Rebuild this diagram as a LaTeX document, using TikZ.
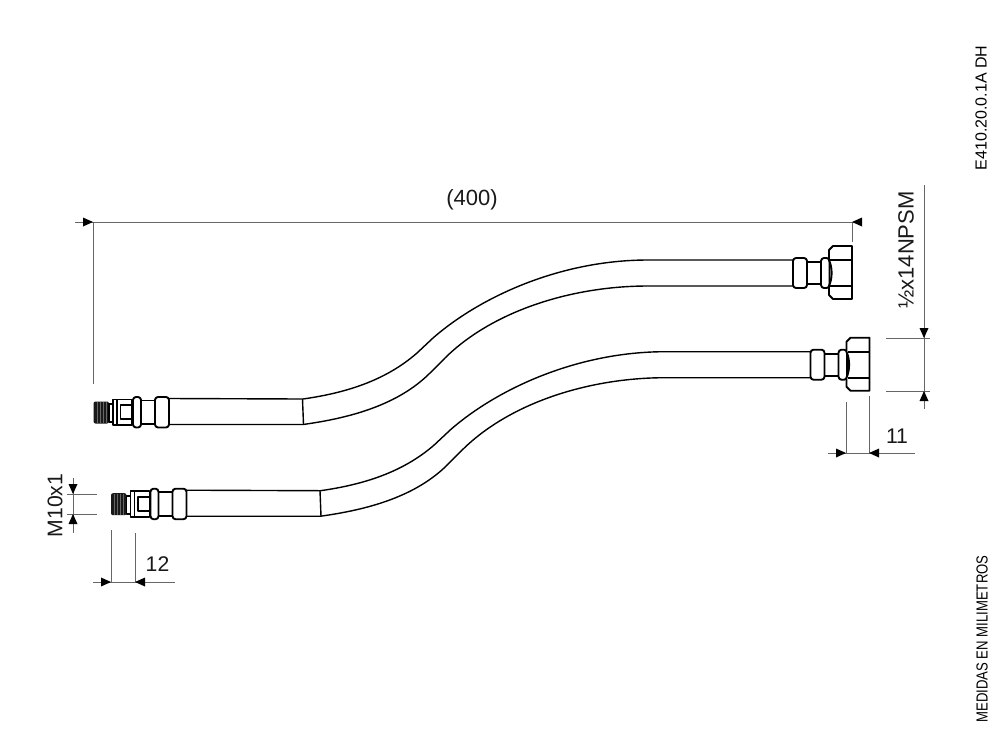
\documentclass[tikz,border=0pt]{standalone}
\usepackage{fontspec}
\setmainfont{Liberation Sans}
\newfontfamily\condfont[FakeStretch=0.82]{Liberation Sans}
\usetikzlibrary{arrows.meta}
\tikzset{
  x=0.5pt,y=-0.5pt,
  part/.style={draw=black,line width=0.95pt,fill=white,line join=round},
  hoseline/.style={draw=black,line width=0.7pt},
  dimline/.style={draw=black!60,line width=0.42pt},
  dimtip/.style={draw=none,fill=black},
  dimtext/.style={font=\fontsize{10.6}{12}\selectfont,inner sep=0pt,text=black!90},
}
% one hose drawn at the upper position; the lower one is this shifted
\newcommand{\hosedraw}{%
  % hose
  \draw[hoseline] (169,398.5) -- (303,399)
     .. controls (345,393) and (385,381) .. (417,353) -- (433,338)
     .. controls (480,297) and (560,260) .. (648,260) -- (793,260);
  \draw[hoseline] (169,424.5) -- (303,424.5)
     .. controls (350,418) and (398,405) .. (430,373) -- (443,360)
     .. controls (490,312) and (570,286) .. (648,286) -- (793,286);
  \draw[hoseline] (302.5,399) -- (303.5,424.5);
  % left fitting: thread
  \fill[black!90,rounded corners=1] (93.5,401.5) rectangle (109,423.5);
  \foreach \tx in {97,100,103,106}{\draw[black!60,line width=0.3pt] (\tx,402) -- (\tx,423);}
  \draw[part] (109,404) rectangle (113,422);
  \draw[part] (113,399.5) rectangle (132,425);
  \draw[part] (117,399.5) -- (117,425);
  \draw[part] (120.5,405) rectangle (132,419);
  \draw[part] (141,400.5) rectangle (155,424);
  \draw[part,rounded corners=1.5] (133,397) rectangle (141,427.5);
  \draw[part,rounded corners=1.5] (155,397) rectangle (169,427.5);
  % right fitting
  \draw[part] (807,262) rectangle (821,284);
  \draw[part,rounded corners=1.5] (793,258) rectangle (807,288);
  \draw[part,rounded corners=1.5] (821,258) rectangle (829.5,288);
  \draw[part] (852,246) -- (833,246) -- (829,250) -- (829,260)
     .. controls (832.5,268) and (832.5,278) .. (829,286)
     -- (829,295) -- (833,299) -- (852,299) -- cycle;
  \draw[part] (830,260) -- (852,260) (830,286) -- (852,286);
}
\begin{document}
\begin{tikzpicture}
\useasboundingbox (0,0) rectangle (1000,750);
\fill[white] (0,0) rectangle (1000,750);
\hosedraw
\begin{scope}[shift={(17.5,91.7)}]
\hosedraw
\end{scope}
% named dimension anchors
\coordinate (a1) at (93,222); \coordinate (a2) at (852,222);
\coordinate (b1) at (924,338); \coordinate (b2) at (924,391);
\coordinate (c1) at (846,453); \coordinate (c2) at (869,453);
\coordinate (d1) at (73,494); \coordinate (d2) at (73,514);
\coordinate (e1) at (111,582); \coordinate (e2) at (135,582);
% (400)
\draw[dimline] (75,222) -- (860,222);
\draw[dimline] (93,222) -- (93,384);
\draw[dimline] (852,222) -- (852,242);
\fill[dimtip] (a1) -- ++(-10,-4.5) -- ++(0,9) -- cycle;
\fill[dimtip] (a2) -- ++(10,-4.5) -- ++(0,9) -- cycle;
\node[dimtext,font=\fontsize{11}{12}\selectfont] (t400) at (472,200) {(400)};
% 1/2x14NPSM
\draw[dimline] (924,185) -- (924,409);
\draw[dimline] (886,338) -- (930,338);
\draw[dimline] (886,391) -- (930,391);
\fill[dimtip] (b1) -- ++(-4.5,-10) -- ++(9,0) -- cycle;
\fill[dimtip] (b2) -- ++(-4.5,10) -- ++(9,0) -- cycle;
\node[dimtext,font=\fontsize{11}{12}\selectfont,rotate=90] (tnpsm) at (906,250) {½x14NPSM};
% 11
\draw[dimline] (828,453) -- (915,453);
\draw[dimline] (846,402) -- (846,453);
\draw[dimline] (869,396) -- (869,453);
\fill[dimtip] (c1) -- ++(-10,-4.5) -- ++(0,9) -- cycle;
\fill[dimtip] (c2) -- ++(10,-4.5) -- ++(0,9) -- cycle;
\node[dimtext] (t11) at (897,436) {11};
% M10x1
\draw[dimline] (73,478) -- (73,533);
\draw[dimline] (67,494) -- (97,494);
\draw[dimline] (67,514) -- (97,514);
\fill[dimtip] (d1) -- ++(-4.5,-10) -- ++(9,0) -- cycle;
\fill[dimtip] (d2) -- ++(-4.5,10) -- ++(9,0) -- cycle;
\node[dimtext,rotate=90] (tm) at (55,505.5) {M10x1};
% 12
\draw[dimline] (93,582) -- (175,582);
\draw[dimline] (111,530) -- (111,582);
\draw[dimline] (135,533) -- (135,582);
\fill[dimtip] (e1) -- ++(-10,-4.5) -- ++(0,9) -- cycle;
\fill[dimtip] (e2) -- ++(10,-4.5) -- ++(0,9) -- cycle;
\node[dimtext] (t12) at (157.5,564.5) {12};
% margin notes
\node[rotate=90,inner sep=0pt,font=\fontsize{8}{9}\selectfont] (tcode) at (981,108) {E410.20.0.1A DH};
\node[rotate=90,inner sep=0pt,font=\condfont\fontsize{8}{9}\selectfont] (tnote) at (982,639) {MEDIDAS EN MILIMETROS};
\end{tikzpicture}
\end{document}
